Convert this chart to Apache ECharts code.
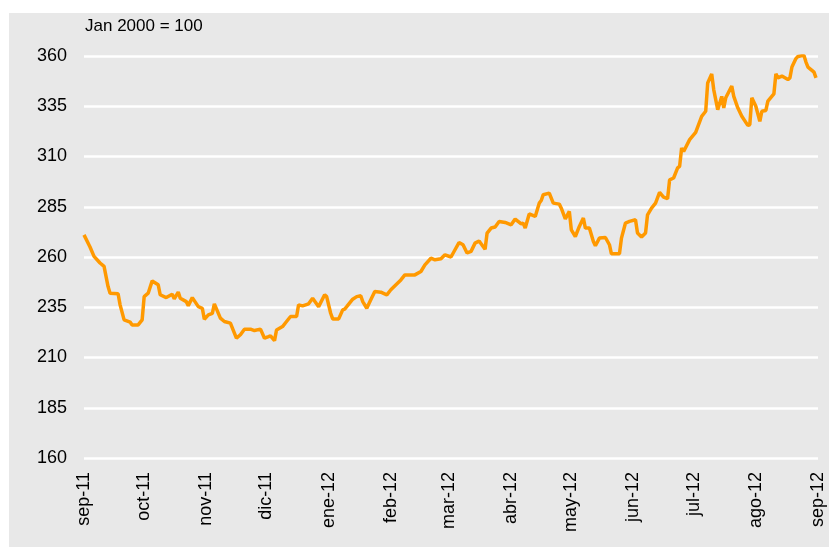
<!DOCTYPE html>
<html>
<head>
<meta charset="utf-8">
<script src="https://cdn.jsdelivr.net/npm/echarts@6/dist/echarts.min.js"></script>
<style>
  html, body { margin: 0; padding: 0; background: #fff; }
  #chart { position: absolute; left: 9px; top: 13px; width: 820px; height: 534px; }
</style>
</head>
<body>
<div id="chart"></div>
<script>
// índice, Jan 2000 = 100
const dates = [
  "2011-09-01", "2011-09-04", "2011-09-06", "2011-09-09", "2011-09-11", "2011-09-13", "2011-09-14",
  "2011-09-18", "2011-09-19", "2011-09-21", "2011-09-24", "2011-09-25", "2011-09-28", "2011-09-30",
  "2011-10-01", "2011-10-03", "2011-10-05", "2011-10-08", "2011-10-09", "2011-10-12", "2011-10-15",
  "2011-10-16", "2011-10-18", "2011-10-19", "2011-10-22", "2011-10-23", "2011-10-25", "2011-10-28",
  "2011-10-30", "2011-10-31", "2011-11-02", "2011-11-04", "2011-11-05", "2011-11-08", "2011-11-10",
  "2011-11-13", "2011-11-16", "2011-11-18", "2011-11-20", "2011-11-23", "2011-11-25", "2011-11-28",
  "2011-11-30", "2011-12-02", "2011-12-03", "2011-12-05", "2011-12-06", "2011-12-09", "2011-12-11",
  "2011-12-13", "2011-12-16", "2011-12-17", "2011-12-19", "2011-12-22", "2011-12-24", "2011-12-27",
  "2011-12-30", "2011-12-31", "2012-01-02", "2012-01-03", "2012-01-06", "2012-01-08", "2012-01-09",
  "2012-01-10", "2012-01-13", "2012-01-15", "2012-01-17", "2012-01-18", "2012-01-20", "2012-01-22",
  "2012-01-24", "2012-01-27", "2012-01-30", "2012-02-01", "2012-02-06", "2012-02-08", "2012-02-13",
  "2012-02-16", "2012-02-18", "2012-02-21", "2012-02-23", "2012-02-26", "2012-02-28", "2012-03-02",
  "2012-03-04", "2012-03-06", "2012-03-08", "2012-03-10", "2012-03-12", "2012-03-14", "2012-03-16",
  "2012-03-19", "2012-03-20", "2012-03-22", "2012-03-24", "2012-03-26", "2012-03-29", "2012-04-01",
  "2012-04-03", "2012-04-06", "2012-04-07", "2012-04-08", "2012-04-10", "2012-04-13", "2012-04-15",
  "2012-04-16", "2012-04-17", "2012-04-20", "2012-04-22", "2012-04-25", "2012-04-26", "2012-04-28",
  "2012-04-30", "2012-05-01", "2012-05-03", "2012-05-05", "2012-05-07", "2012-05-08", "2012-05-10",
  "2012-05-12", "2012-05-13", "2012-05-15", "2012-05-18", "2012-05-20", "2012-05-21", "2012-05-25",
  "2012-05-26", "2012-05-28", "2012-05-30", "2012-06-02", "2012-06-03", "2012-06-05", "2012-06-07",
  "2012-06-08", "2012-06-10", "2012-06-12", "2012-06-14", "2012-06-16", "2012-06-18", "2012-06-19",
  "2012-06-21", "2012-06-23", "2012-06-24", "2012-06-25", "2012-06-26", "2012-06-29", "2012-07-02",
  "2012-07-05", "2012-07-07", "2012-07-08", "2012-07-10", "2012-07-11", "2012-07-13", "2012-07-15",
  "2012-07-16", "2012-07-17", "2012-07-20", "2012-07-21", "2012-07-23", "2012-07-25", "2012-07-28",
  "2012-07-29", "2012-07-30", "2012-08-01", "2012-08-03", "2012-08-04", "2012-08-06", "2012-08-07",
  "2012-08-10", "2012-08-11", "2012-08-12", "2012-08-14", "2012-08-17", "2012-08-18", "2012-08-19",
  "2012-08-21", "2012-08-22", "2012-08-25", "2012-08-26", "2012-08-27", "2012-08-30", "2012-08-31"
];
const values = [
  271, 265, 260.3, 257, 255.3, 245.3, 242,
  241.7, 236.2, 228.7, 227.6, 226.2, 226.2, 228.7,
  240.3, 242, 248.1, 246.2, 241.2, 239.8, 241.5,
  239.2, 242.5, 239.5, 237.8, 235.8, 239.8, 235.3,
  234.5, 229, 231.2, 232, 236.7, 229.6, 227.9,
  227.1, 219.6, 221.3, 224.1, 224.1, 223.4, 224.1,
  219.6, 220.4, 220.8, 218.4, 223.7, 225.4, 227.9,
  230.4, 230.4, 236.2, 235.7, 236.7, 239.5, 235.3,
  241.2, 240.3, 232, 229.2, 229.2, 233.7, 234.1,
  235.3, 239, 240.3, 240.7, 237.8, 234.5, 238.7,
  242.8, 242.5, 241.2, 243.7, 248.6, 251.1, 251.1,
  252.8, 256.1, 259.4, 258.6, 259.1, 261.1, 260,
  263.6, 267.2, 266.1, 262, 262.8, 266.9, 268,
  263.9, 271.9, 274.4, 274.9, 277.7, 277.2, 276,
  278.9, 276.5, 276.9, 274.4, 281.4, 280.2, 286.8,
  288.1, 291, 291.8, 286.8, 286.3, 284.3, 278.9,
  282.7, 273.5, 270.2, 275.2, 279.4, 274.4, 274.4,
  267.7, 265.6, 269.4, 269.7, 266.1, 261.6, 261.6,
  269.4, 276.9, 277.7, 278.5, 271.9, 269.9, 271.9,
  281, 284.3, 286.8, 292.1, 289.8, 289, 298.4,
  299.3, 304.3, 305.1, 314.2, 312.5, 318.4, 322,
  330, 332.5, 346.6, 351.1, 343.3, 333.3, 339.9,
  334.2, 339.2, 345, 339.9, 334.2, 330, 325.5,
  325.8, 339.2, 335, 327.5, 332.5, 332.9, 337.5,
  341.1, 351.1, 349.1, 350, 348.3, 349.1, 354.5,
  358.7, 359.8, 360.3, 357, 354.5, 352, 349.1
];
const monthNames = ["ene", "feb", "mar", "abr", "may", "jun", "jul", "ago", "sep", "oct", "nov", "dic"];
const yTicks = { min: 160, max: 360, step: 25 };
const unitLabel = "Jan 2000 = 100";

const DAY = 86400000;
const chart = echarts.init(document.getElementById("chart"));

const option = {
  backgroundColor: "#e8e8e8",
  animation: false,
  textStyle: { fontFamily: "Liberation Sans, Arial, sans-serif" },
  title: {
    text: unitLabel,
    left: 76,
    top: 5,
    padding: 0,
    textStyle: { fontSize: 17, fontWeight: "normal", color: "#000" }
  },
  grid: { left: 75, right: 11, top: 43, bottom: 89 },
  xAxis: {
    type: "time",
    min: "2011-09-01",
    max: "2012-09-01",
    splitNumber: 12,
    minInterval: 28 * DAY,
    maxInterval: 31 * DAY,
    axisLine: { show: false },
    axisTick: { show: false },
    splitLine: { show: false },
    axisLabel: {
      rotate: 90,
      margin: 14,
      fontSize: 18,
      color: "#000",
      showMinLabel: true,
      showMaxLabel: true,
      hideOverlap: false,
      formatter: function (val) {
        const d = new Date(val);
        return monthNames[d.getMonth()] + "-" + String(d.getFullYear()).slice(2);
      }
    }
  },
  yAxis: {
    type: "value",
    min: yTicks.min,
    max: yTicks.max,
    interval: yTicks.step,
    axisLine: { show: false },
    axisTick: { show: false },
    axisLabel: { fontSize: 18, color: "#000", margin: 17 },
    splitLine: { lineStyle: { color: "#fff", width: 2.5 } }
  },
  series: [
    {
      type: "line",
      data: dates.map((d, i) => [d, values[i]]),
      symbol: "none",
      lineStyle: { color: "#ff9900", width: 3.5 },
      itemStyle: { color: "#ff9900" }
    }
  ]
};

chart.setOption(option);
</script>
</body>
</html>
